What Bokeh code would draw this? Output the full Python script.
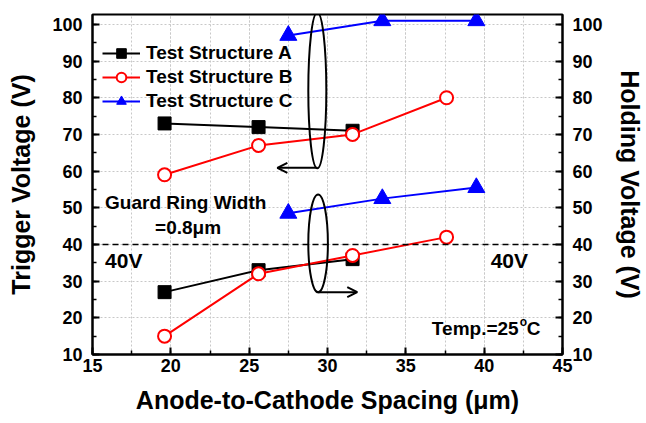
from bokeh.plotting import figure
from bokeh.models import (Range1d, LinearAxis, Arrow, OpenHead, Legend, LegendItem,
                          Span, Label, SingleIntervalTicker)
from bokeh.embed import file_html
from bokeh.resources import INLINE

# ---- data ----
spacing_A = [19.6, 25.6, 31.6]
spacing_B = [19.6, 25.6, 31.6, 37.6]
spacing_C = [27.5, 33.5, 39.5]
trigger_A = [73, 72, 71]
trigger_B = [59, 67, 70, 80]
trigger_C = [97, 101, 101]
holding_A = [27, 33, 36]
holding_B = [15, 32, 37, 42]
holding_C = [48.5, 52.5, 55.5]
series_names = ["Test Structure A", "Test Structure B", "Test Structure C"]

FONT = "Liberation Sans"

p = figure(width=646, height=423, x_range=Range1d(15, 45), y_range=Range1d(10, 102.7),
           output_backend="svg", toolbar_location=None,
           min_border_left=92, min_border_right=81, min_border_top=14, min_border_bottom=69)
p.extra_y_ranges = {"hold": Range1d(10, 102.7)}
p.add_layout(LinearAxis(y_range_name="hold"), "right")

p.xaxis.ticker = SingleIntervalTicker(interval=5, num_minor_ticks=2)
for ax in p.yaxis:
    ax.ticker = SingleIntervalTicker(interval=10, num_minor_ticks=2)

for ax in p.xaxis + p.yaxis:
    ax.axis_line_width = 2
    ax.major_tick_in = 7
    ax.major_tick_out = 0
    ax.minor_tick_in = 4
    ax.minor_tick_out = 0
    ax.major_tick_line_width = 2
    ax.minor_tick_line_width = 1.5
    ax.major_label_text_font = FONT
    ax.major_label_text_font_style = "bold"
    ax.major_label_text_font_size = "18px"
    ax.major_label_text_color = "black"
    ax.axis_label_text_font = FONT
    ax.axis_label_text_font_style = "bold"
    ax.axis_label_text_font_size = "25px"
    ax.axis_label_text_color = "black"

p.xaxis.axis_label = "Anode-to-Cathode Spacing (\u03bcm)"
p.xaxis.major_label_standoff = 4
p.xaxis.axis_label_standoff = 11
p.yaxis[0].axis_label = "Trigger Voltage (V)"
p.yaxis[0].major_label_standoff = 10
p.yaxis[0].axis_label_standoff = 14
p.yaxis[1].axis_label = "Holding Voltage (V)"
p.yaxis[1].major_label_standoff = 10
p.yaxis[1].axis_label_standoff = 10

p.outline_line_color = "black"
p.outline_line_width = 2
p.xgrid.grid_line_color = "#c8c8c8"
p.xgrid.grid_line_dash = "2 2"
p.xgrid.minor_grid_line_color = "#c8c8c8"
p.xgrid.minor_grid_line_dash = "2 2"
p.ygrid.grid_line_color = "#c8c8c8"
p.ygrid.grid_line_dash = "2 2"

# 40 V reference line
p.add_layout(Span(location=40, dimension="width", line_color="black",
                  line_dash="6 4", line_width=1.5))

# ---- series ----
rA_l = p.line(spacing_A, trigger_A, line_color="black", line_width=2)
rA_m = p.scatter(spacing_A, trigger_A, marker="square", size=13, fill_color="black", line_color="black")
rB_l = p.line(spacing_B, trigger_B, line_color="red", line_width=2)
rB_m = p.scatter(spacing_B, trigger_B, marker="circle", size=13, fill_color="white", line_color="red", line_width=2)
rC_l = p.line(spacing_C, trigger_C, line_color="blue", line_width=2)
rC_m = p.scatter(spacing_C, trigger_C, marker="triangle", size=17, fill_color="blue", line_color="blue")

p.line(spacing_A, holding_A, line_color="black", line_width=2, y_range_name="hold")
p.scatter(spacing_A, holding_A, marker="square", size=13, fill_color="black", line_color="black", y_range_name="hold")
p.line(spacing_B, holding_B, line_color="red", line_width=2, y_range_name="hold")
p.scatter(spacing_B, holding_B, marker="circle", size=13, fill_color="white", line_color="red", line_width=2, y_range_name="hold")
p.line(spacing_C, holding_C, line_color="blue", line_width=2, y_range_name="hold")
p.scatter(spacing_C, holding_C, marker="triangle", size=17, fill_color="blue", line_color="blue", y_range_name="hold")

# ---- ellipses and arrows ----
p.ellipse(x=[29.35, 29.4], y=[82, 40.3], width=[1.15, 1.25], height=[42.5, 26.7],
          fill_color=None, line_color="black", line_width=2)
p.add_layout(Arrow(end=OpenHead(size=10, line_width=2, line_color="black"),
                   x_start=29.35, y_start=60.9, x_end=26.8, y_end=60.9, line_width=2))
p.add_layout(Arrow(end=OpenHead(size=10, line_width=2, line_color="black"),
                   x_start=29.4, y_start=27.0, x_end=31.9, y_end=27.0, line_width=2))

# ---- legend ----
legend = Legend(items=[LegendItem(label=series_names[0], renderers=[rA_l, rA_m]),
                       LegendItem(label=series_names[1], renderers=[rB_l, rB_m]),
                       LegendItem(label=series_names[2], renderers=[rC_l, rC_m])],
                location=(10, 241), border_line_color=None, background_fill_alpha=0,
                label_text_font=FONT, label_text_font_style="bold", label_text_color="black",
                label_text_font_size="19px", glyph_width=38, glyph_height=24,
                label_height=24, spacing=0, padding=4, label_standoff=6)
p.add_layout(legend)

# ---- text annotations ----
def lab(x, y, t, size="19px", align="left", **kw):
    p.add_layout(Label(x=x, y=y, text=t, text_font=FONT, text_font_style="bold",
                       text_font_size=size, text_align=align, text_baseline="middle",
                       text_color="black", **kw))

lab(15.8, 51.5, "Guard Ring Width")
lab(21.1, 44.6, "=0.8\u03bcm", align="center")
lab(15.8, 35.6, "40V", size="21px")
lab(42.8, 35.6, "40V", size="21px", align="right")
lab(42.2, 17.1, "Temp.=25", size="19px", align="right")
lab(42.2, 17.1, "o", size="12px", x_offset=1, y_offset=6)
lab(42.2, 17.1, "C", size="19px", x_offset=8)

open("out.html", "w").write(file_html(p, INLINE))
